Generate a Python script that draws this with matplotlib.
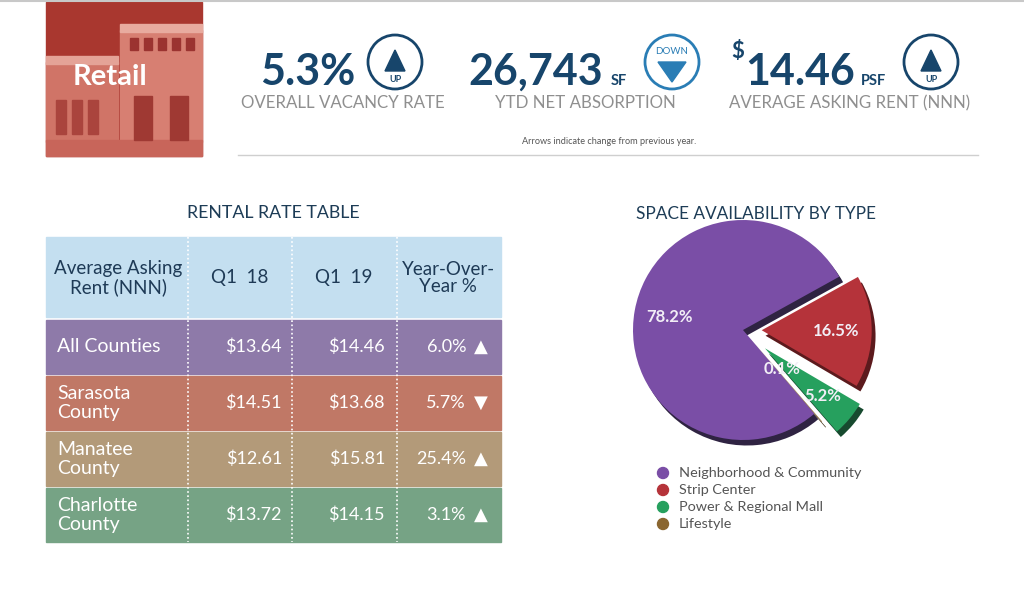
import numpy as np
import matplotlib
matplotlib.use('Agg')
import matplotlib.pyplot as plt
from matplotlib.patches import Rectangle, Circle, Polygon

plt.rcParams['font.family'] = ['Lato', 'DejaVu Sans']

# headline stats
vacancy_rate = 5.3
net_absorption = 26743
asking_rent = 14.46
stat_dirs = ['UP', 'DOWN', 'UP']
stat_labels = ['OVERALL VACANCY RATE', 'YTD NET ABSORPTION', 'AVERAGE ASKING RENT (NNN)']

# rental rate table
header = ['Average Asking\nRent (NNN)', 'Q1  18', 'Q1  19', 'Year-Over-\nYear %']
counties = ['All Counties', 'Sarasota\nCounty', 'Manatee\nCounty', 'Charlotte\nCounty']
q1_18 = [13.64, 14.51, 12.61, 13.72]
q1_19 = [14.46, 13.68, 15.81, 14.15]
yoy = [6.0, -5.7, 25.4, 3.1]

# space availability
types = ['Neighborhood & Community', 'Strip Center', 'Power & Regional Mall', 'Lifestyle']
shares = [78.2, 16.5, 5.2, 0.1]

navy = '#17456b'
blue = '#2a7db5'
gray = '#8f8f8f'
row_colors = ['#8e7aa9', '#c07866', '#b39a79', '#76a385']
pie_colors = ['#7a4ea6', '#b5333a', '#26a05e', '#8a6630']
pie_dark = ['#2f2342', '#5c1a1d', '#174a2f', '#3e2d14']

fig = plt.figure(figsize=(10.24, 5.97), dpi=100)
ax = fig.add_axes([0, 0, 1, 1])
ax.set_xlim(0, 1024)
ax.set_ylim(597, 0)
ax.axis('off')

ax.plot([0, 1024], [1, 1], color='#c8c8c8', lw=1.5)

# retail picture block
ax.add_patch(Rectangle((46, 2), 156, 154, color='#a9372f'))
ax.add_patch(Rectangle((46, 62), 72, 80, color='#d07467'))
ax.add_patch(Rectangle((46, 56), 72, 8, color='#e4a397'))
ax.add_patch(Rectangle((120, 30), 82, 112, color='#d77f72'))
ax.add_patch(Rectangle((120, 24), 82, 8, color='#e8ab9f'))
ax.add_patch(Rectangle((46, 140), 156, 16, color='#c8655a'))
for wx in [130, 144, 158, 172, 186]:
    ax.add_patch(Rectangle((wx, 38), 8, 12, color='#9b3330'))
for wx in [56, 72, 88]:
    ax.add_patch(Rectangle((wx, 100), 10, 34, color='#aa443d'))
for wx in [134, 170]:
    ax.add_patch(Rectangle((wx, 96), 18, 44, color='#9f3933'))
ax.text(110, 77, 'Retail', color='white', fontsize=21, fontweight='bold',
        ha='center', va='center')


def badge(cx, cy, direction, col):
    ax.add_patch(Circle((cx, cy), 27, facecolor='white', edgecolor=col, lw=2))
    if direction == 'UP':
        ax.add_patch(Polygon([(cx, 50), (cx - 10, 71), (cx + 10, 71)], color=col))
        ax.text(cx, 80, 'UP', color=col, fontsize=6.5, fontweight='bold',
                ha='center', va='center')
    else:
        ax.add_patch(Polygon([(cx - 14, 62), (cx + 14, 62), (cx, 82)], color=col))
        ax.text(cx, 52, 'DOWN', color=col, fontsize=7,
                ha='center', va='center')


big = dict(color=navy, fontsize=31, fontweight='bold', va='baseline')
ax.text(355, 85, f'{vacancy_rate:.1f}%', ha='right', **big)
badge(395, 62, stat_dirs[0], navy)

ax.text(603, 85, f'{net_absorption:,}', ha='right', **big)
ax.text(611, 85, 'SF', color=navy, fontsize=10.5, fontweight='bold', va='baseline')
badge(672, 62, stat_dirs[1], blue)

rent_txt = ax.text(855, 85, f'{asking_rent:.2f}', ha='right', **big)
fig.canvas.draw()
bb = rent_txt.get_window_extent()
x_left = ax.transData.inverted().transform((bb.x0, bb.y0))[0]
ax.text(x_left - 1, 41, '$', color=navy, fontsize=16, fontweight='bold',
        ha='right', va='top')
ax.text(861, 85, 'PSF', color=navy, fontsize=10.5, fontweight='bold', va='baseline')
badge(931, 62, stat_dirs[2], navy)

for x, s in zip([343, 585, 850], stat_labels):
    ax.text(x, 103, s, color=gray, fontsize=12.2, ha='center', va='center')

ax.text(609, 142, 'Arrows indicate change from previous year.', color='#555555',
        fontsize=6.6, ha='center', va='center')
ax.plot([238, 978], [155, 155], color='#cfcfcf', lw=1)

# rental rate table
ax.text(273, 213, 'RENTAL RATE TABLE', color='#1d3c56', fontsize=12.8,
        ha='center', va='center')
ax.add_patch(Rectangle((46, 237), 455, 80, color='#c4dff0'))
hx = [118, 240, 344, 448]
for x, s in zip(hx, header):
    ax.text(x, 278, s, color='#1e3a56', fontsize=13.5, ha='center', va='center',
            linespacing=1.05)

row_top = [320, 376, 432, 488]
row_h = 54
for i, top in enumerate(row_top):
    ax.add_patch(Rectangle((46, top), 455, row_h, color=row_colors[i]))
    cy = top + row_h / 2
    ax.text(57, cy, counties[i], color='white', fontsize=14, ha='left',
            va='center', linespacing=1.08)
    ax.text(282, cy, f'${q1_18[i]:.2f}', color='white', fontsize=13,
            ha='right', va='center')
    ax.text(385, cy, f'${q1_19[i]:.2f}', color='white', fontsize=13,
            ha='right', va='center')
    ax.text(466, cy, f'{abs(yoy[i]):.1f}%', color='white', fontsize=13,
            ha='right', va='center')
    ax.text(481, cy, '▲' if yoy[i] > 0 else '▼', color='white', fontsize=13,
            ha='center', va='center', family='DejaVu Sans')

for x in [188, 292, 397]:
    ax.plot([x, x], [237, 542], color='white', lw=1.2, linestyle=(0, (1, 1.5)))

# space availability pie
ax.text(756, 214, 'SPACE AVAILABILITY BY TYPE', color='#1d3c56', fontsize=12.4,
        ha='center', va='center')

cx, cy, r = 743, 330, 110
axp = fig.add_axes([(cx - 1.5 * r) / 1024, (597 - cy - 1.5 * r) / 597,
                    3 * r / 1024, 3 * r / 597])
explode = [0, 0.17, 0.26, 0.1]
axp.pie(shares, colors=pie_dark, startangle=-49.5, counterclock=False,
        explode=explode, center=(0.035, -0.05), wedgeprops=dict(linewidth=0))
wedges, _, autotexts = axp.pie(shares, colors=pie_colors, startangle=-49.5,
                               counterclock=False, explode=explode,
                               autopct='%.1f%%', pctdistance=0.68,
                               wedgeprops=dict(linewidth=0),
                               textprops=dict(color='#f2eef6', fontsize=12,
                                              fontweight='bold'))
w = wedges[3]
ang = np.deg2rad((w.theta1 + w.theta2) / 2)
autotexts[3].set_position((0.55 * np.cos(ang), 0.55 * np.sin(ang) + 0.06))
axp.set_xlim(-1.5, 1.5)
axp.set_ylim(-1.5, 1.5)
axp.axis('off')

for i, s in enumerate(types):
    y = 473 + i * 17
    ax.add_patch(Circle((663, y), 5.5, color=pie_colors[i]))
    ax.text(679, y, s, color='#555555', fontsize=10.4, ha='left', va='center')

fig.savefig('out.png', dpi=100)
